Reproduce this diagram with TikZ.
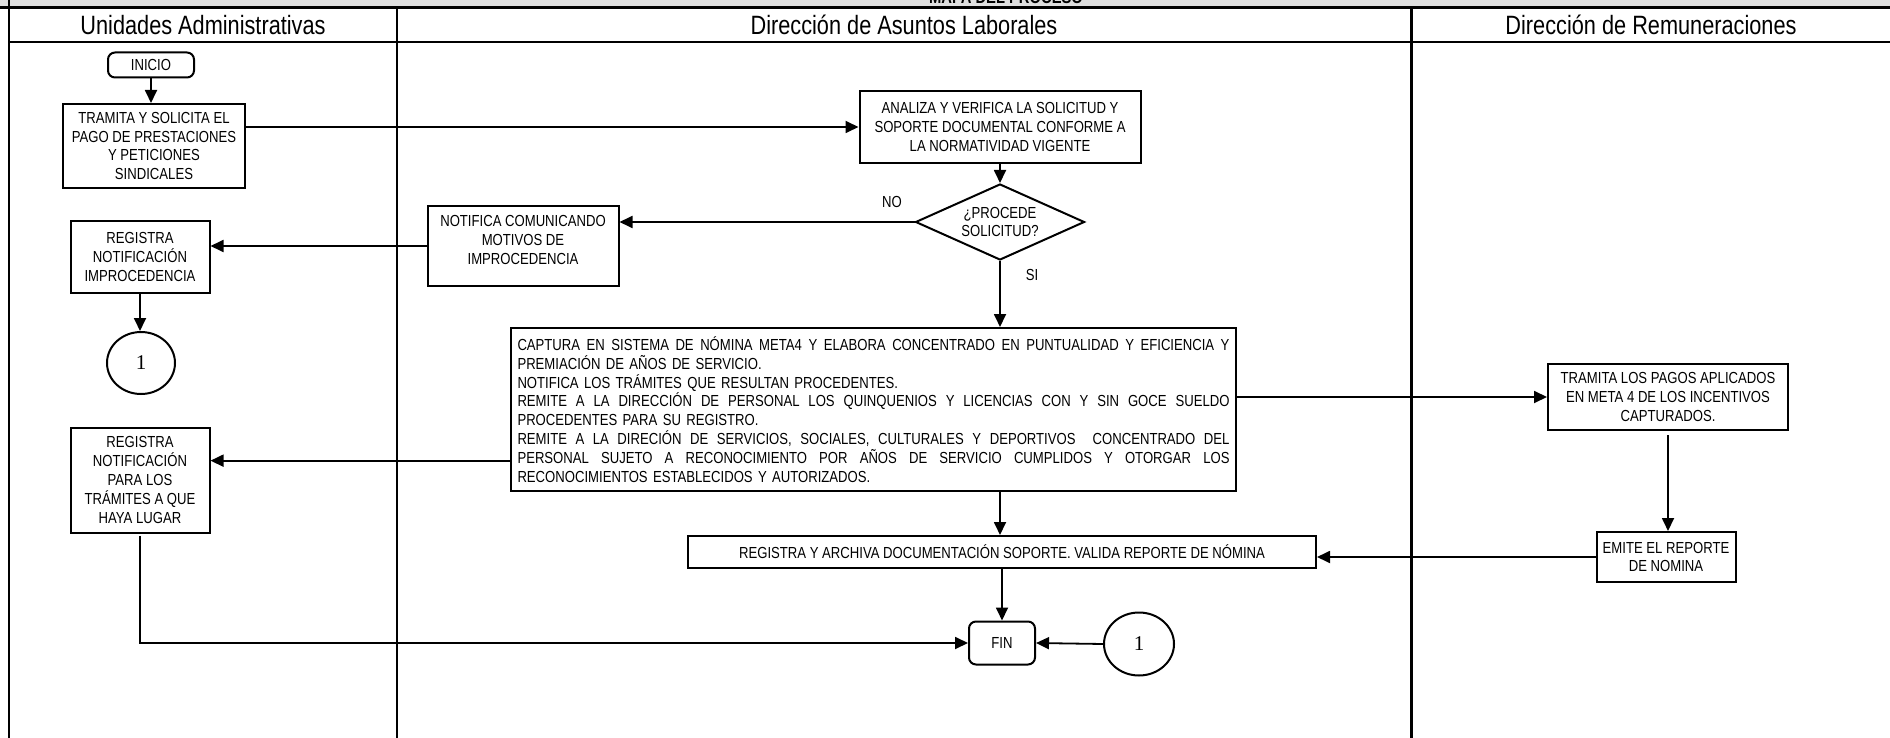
\documentclass[tikz,border=0pt]{standalone}
\usepackage{fontspec}
\setmainfont{Liberation Sans}
\newfontfamily\narrowsans[FakeStretch=0.82]{Liberation Sans}
\newfontfamily\digitserif{Liberation Serif}
\usetikzlibrary{shapes.geometric,arrows.meta,calc}

\definecolor{bannergray}{RGB}{222,222,222}

\newcommand{\stepfont}{\narrowsans\fontsize{16pt}{18.8pt}\selectfont}
\newcommand{\lanefont}{\narrowsans\fontsize{26.5pt}{30pt}\selectfont}
\newcommand{\bannerfont}{\narrowsans\bfseries\fontsize{18pt}{22pt}\selectfont}
\newcommand{\digitfont}{\digitserif\fontsize{21pt}{21pt}\selectfont}
% a line of text spread to the full width of the activity box
\newcommand{\fullline}[1]{\makebox[712pt][s]{\spaceskip=0pt\xspaceskip=0pt #1}}

\tikzset{
  stepbox/.style={draw, line width=2pt, fill=white, align=center, inner sep=3pt, font=\stepfont},
  termbox/.style={stepbox, rounded corners=7pt},
  linkmark/.style={draw, ellipse, line width=2pt, fill=white, inner sep=0pt, font=\digitfont},
  decision/.style={draw, diamond, aspect=2.2, line width=2pt, fill=white, inner sep=0pt, align=center, font=\stepfont},
  flow/.style={line width=1.8pt, -{Triangle[length=13pt,width=12pt]}},
  lane/.style={line width=2.4pt},
  lanetitle/.style={font=\lanefont},
  branch/.style={font=\stepfont}
}

\begin{document}
\begin{tikzpicture}[x=1pt,y=-1pt]
\useasboundingbox (0,0) rectangle (1890,738);

% title banner, cut at the top edge
\begin{scope}
  \clip (0,0) rectangle (1890,7.5);
  \fill[bannergray] (0,0) rectangle (1890,7.5);
  \node[font=\bannerfont, anchor=base] (maptitle) at (1006,4) {MAPA DEL PROCESO};
\end{scope}

% swimlane grid
\draw[lane] (0,7.5) -- (1890,7.5);
\draw[lane] (9,0) -- (9,738);
\draw[lane] (9,42) -- (1890,42);
\draw[lane] (397,7.5) -- (397,738);
\draw[lane] (1411.5,7.5) -- (1411.5,738);

\node[lanetitle] (laneA) at (203,25) {Unidades Administrativas};
\node[lanetitle] (laneB) at (904,25) {Dirección de Asuntos Laborales};
\node[lanetitle] (laneC) at (1651,25) {Dirección de Remuneraciones};

% steps
\node[termbox, minimum width=86pt, minimum height=25pt] (inicio) at (151,65) {INICIO};
\node[stepbox, minimum width=182pt, minimum height=84pt] (tramita) at (154,146)
  {TRAMITA Y SOLICITA EL\\PAGO DE PRESTACIONES\\Y PETICIONES\\SINDICALES};
\node[stepbox, minimum width=281pt, minimum height=72pt] (analiza) at (1000,127)
  {ANALIZA Y VERIFICA LA SOLICITUD Y\\SOPORTE DOCUMENTAL CONFORME A\\LA NORMATIVIDAD VIGENTE};
\node[decision, minimum width=169pt, minimum height=76pt] (procede) at (1000,222)
  {¿PROCEDE\\SOLICITUD?};
\node[stepbox, minimum width=191pt, minimum height=79pt] (notifica) at (523,246)
  {NOTIFICA COMUNICANDO\\MOTIVOS DE\\IMPROCEDENCIA\\[-6.8pt]};
\node[stepbox, minimum width=139pt, minimum height=71pt] (regimp) at (140,257)
  {REGISTRA\\NOTIFICACIÓN\\IMPROCEDENCIA};
\node[linkmark, minimum width=68pt, minimum height=62pt] (linkout) at (141,363) {1};

\node[stepbox, align=left, text width=712pt, minimum height=163pt, inner sep=6.5pt] (captura) at (873.5,409.5)
  {\fullline{CAPTURA EN SISTEMA DE NÓMINA META4 Y ELABORA CONCENTRADO EN PUNTUALIDAD Y EFICIENCIA Y}\\
   PREMIACIÓN DE AÑOS DE SERVICIO.\\
   NOTIFICA LOS TRÁMITES QUE RESULTAN PROCEDENTES.\\
   \fullline{REMITE A LA DIRECCIÓN DE PERSONAL LOS QUINQUENIOS Y LICENCIAS CON Y SIN GOCE SUELDO}\\
   PROCEDENTES PARA SU REGISTRO.\\
   \fullline{REMITE A LA DIRECIÓN DE SERVICIOS, SOCIALES, CULTURALES Y DEPORTIVOS \ CONCENTRADO DEL}\\
   \fullline{PERSONAL SUJETO A RECONOCIMIENTO POR AÑOS DE SERVICIO CUMPLIDOS Y OTORGAR LOS}\\
   RECONOCIMIENTOS ESTABLECIDOS Y AUTORIZADOS.};

\node[stepbox, minimum width=240pt, minimum height=66pt] (pagos) at (1668,397)
  {TRAMITA LOS PAGOS APLICADOS\\EN META 4 DE LOS INCENTIVOS\\CAPTURADOS.};
\node[stepbox, minimum width=139pt, minimum height=50pt] (emite) at (1666,557)
  {EMITE EL REPORTE\\DE NOMINA};
\node[stepbox, minimum width=628pt, minimum height=32pt] (archiva) at (1002,552)
  {REGISTRA Y ARCHIVA DOCUMENTACIÓN SOPORTE. VALIDA REPORTE DE NÓMINA};
\node[stepbox, minimum width=139pt, minimum height=105pt] (regtram) at (140,480)
  {REGISTRA\\NOTIFICACIÓN\\PARA LOS\\TRÁMITES A QUE\\HAYA LUGAR};
\node[termbox, minimum width=66pt, minimum height=43pt] (fin) at (1002,643) {FIN};
\node[linkmark, minimum width=70pt, minimum height=63pt] (linkin) at (1139,644) {1};

% branch labels
\node[branch] (nolabel) at (892,202) {NO};
\node[branch] (silabel) at (1032,275) {SI};

% connectors
\draw[flow] (inicio.south) -- (inicio.south |- tramita.north);
\draw[flow] (analiza.west -| tramita.east) -- (analiza.west);
\draw[flow] (analiza.south) -- (procede.north);
\draw[flow] (procede.west) -- (procede.west -| notifica.east);
\draw[flow] (notifica.west) -- (notifica.west -| regimp.east);
\draw[flow] (regimp.south) -- (regimp.south |- linkout.north);
\draw[flow] (procede.south) -- (procede.south |- captura.north);
\draw[flow] (pagos.west -| captura.east) -- (pagos.west);
\coordinate (capleft) at ($(captura.north west)!0.81!(captura.south west)$);
\draw[flow] (capleft) -- (capleft -| regtram.east);
\draw[flow] (procede.south |- captura.south) -- (procede.south |- archiva.north);
\draw[flow, shorten <=4pt] (pagos.south) -- (pagos.south |- emite.north);
\draw[flow] (emite.west) -- (emite.west -| archiva.east);
\draw[flow] (archiva.south -| fin.north) -- (fin.north);
\draw[flow] (linkin.west) -- (fin.east);
\draw[flow, shorten <=2pt] (regtram.south) |- (fin.west);
\end{tikzpicture}
\end{document}
